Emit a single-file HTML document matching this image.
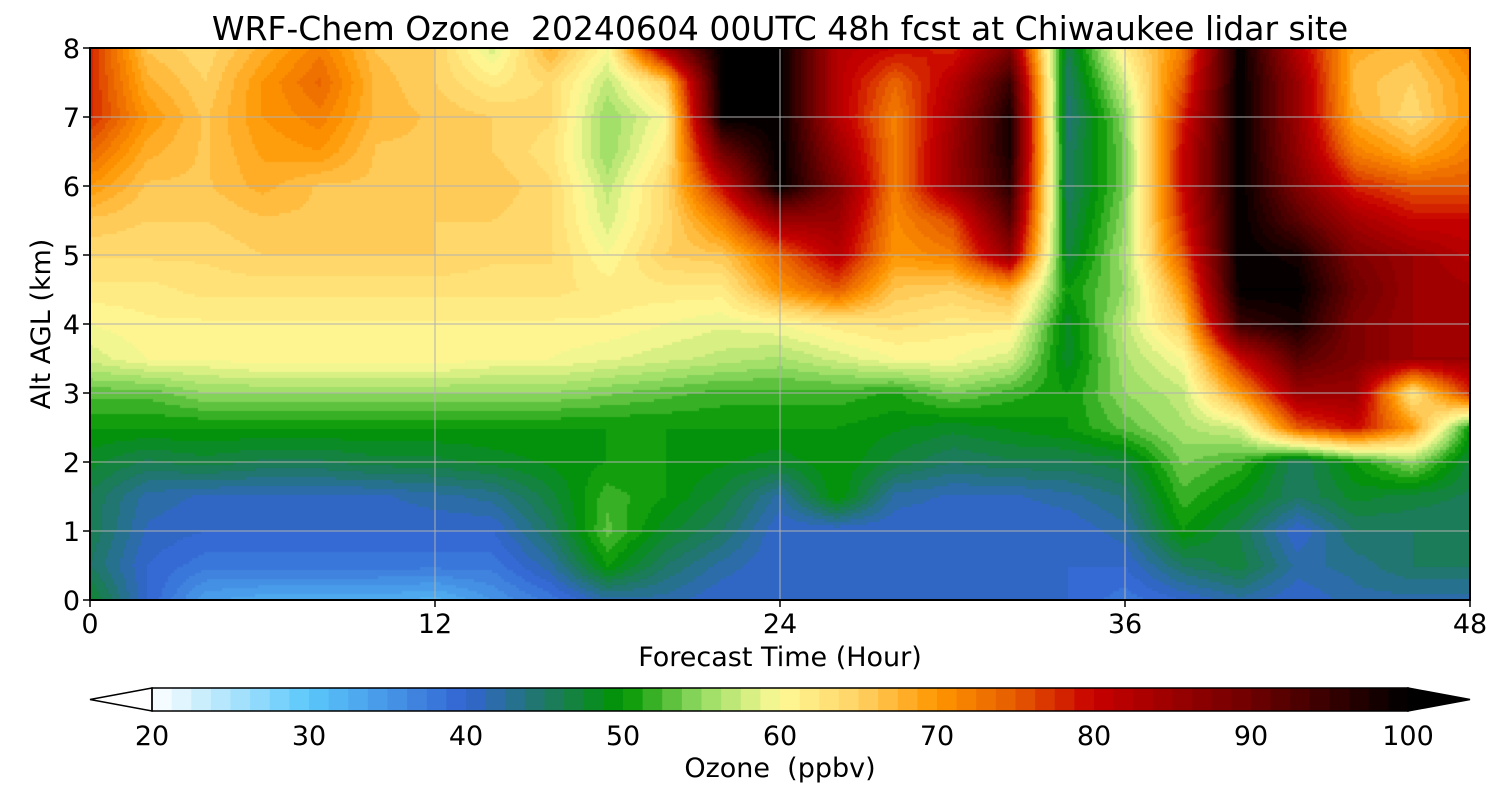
<!DOCTYPE html>
<html><head><meta charset="utf-8">
<style>
body{margin:0;background:#fff;width:1500px;height:800px;overflow:hidden;font-family:"DejaVu Sans","Liberation Sans",sans-serif}
svg text{font-family:"DejaVu Sans","Liberation Sans",sans-serif}
</style></head><body>
<svg id="svg" width="1500" height="800" xmlns="http://www.w3.org/2000/svg">
<text x="780" y="40" font-size="33" text-anchor="middle" fill="#000" xml:space="preserve">WRF-Chem Ozone  20240604 00UTC 48h fcst at Chiwaukee lidar site</text>
<foreignObject x="90" y="48" width="1380" height="552"><canvas id="cv" width="1380" height="552" xmlns="http://www.w3.org/1999/xhtml"></canvas></foreignObject>
<g id="grid"></g>
<rect x="90" y="48" width="1380" height="552" fill="none" stroke="#000" stroke-width="2"/>
<g id="axes"></g>
<text x="780" y="666" font-size="27" text-anchor="middle">Forecast Time (Hour)</text>
<text transform="translate(50,324) rotate(-90)" font-size="27" text-anchor="middle">Alt AGL (km)</text>
<g id="cbar"></g>
<text x="780" y="777" font-size="27" text-anchor="middle" xml:space="preserve">Ozone  (ppbv)</text>
</svg>
<script>
const hours=[0,2,4,6,8,10,12,14,16,18,20,22,24,26,28,30,32,34,36,38,40,42,44,46,48];
const alts=[0,0.5,1,1.5,2,2.5,3,3.5,4,4.5,5,5.5,6,6.5,7,7.5,8];
const r00=[48,40,34,33,33,33,32,35,38,42,42,40,40,40,40,40,40,40,38,40,42,40,42,42,42];
const r05=[45,40,38,38,38,38,38,38,42,50,45,42,40,40,40,40,40,40,40,45,47,42,43,45,45];
const r10=[46,41,40,40,40,40,40,40,45,53,48,45,40,40,40,40,40,40,42,50,46,40,45,45,45];
const r15=[46,42,41,41,41,41,42,43,47,52,50,47,42,50,42,41,41,42,44,52,49,45,48,47,46];
const r20=[48,46,47,46,46,47,47,48,49,50,50,49,48,50,47,45,46,46,47,54,52,45,50,55,47];
const r25=[50,50,50,50,50,50,50,50,50,50,50,50,50,50,49,48,49,50,53,56,58,75,80,70,50];
const r30=[53,53,55,55,55,55,55,55,55,54,53,52,52,52,51,54,52,50,55,57,70,85,85,62,78];
const r35=[58,60,60,61,61,61,61,60,60,59,58,57,56,58,60,60,58,48,56,60,80,92,88,85,85];
const r40=[60,61,61,61,61,61,61,61,61,61,60,59,60,62,63,62,62,48,57,65,95,98,88,85,84];
const r45=[62,62,63,63,63,63,63,63,63,62,62,62,70,75,66,65,68,50,55,70,100,100,90,85,84];
const r50=[64,64,64,65,65,65,65,64,64,60,65,66,74,82,70,72,86,47,56,75,100,98,88,85,82];
const r55=[66,65,65,66,66,66,65,65,64,58,64,72,85,85,71,76,92,46,55,78,100,92,84,80,80];
const r60=[70,66,66,68,66,66,66,66,64,57,64,80,100,88,72,85,96,45,54,80,100,88,78,75,75];
const r65=[74,68,66,69,70,66,66,65,63,55,62,90,100,85,72,85,98,45,54,80,100,86,72,68,72];
const r70=[78,70,66,70,72,67,66,65,64,55,60,100,100,82,72,84,98,44,55,78,100,85,68,64,70];
const r75=[78,68,65,70,74,67,65,62,64,57,65,100,100,82,74,82,95,45,58,75,100,85,67,65,70];
const r80=[78,66,64,68,72,66,65,58,68,60,85,100,100,82,80,78,88,46,62,72,100,82,68,67,72];
const rows=[r00,r05,r10,r15,r20,r25,r30,r35,r40,r45,r50,r55,r60,r65,r70,r75,r80];
const xTicks=[0,12,24,36,48];
const yTicks=[0,1,2,3,4,5,6,7,8];
const cbTicks=[20,30,40,50,60,70,80,90,100];

const X0=90,X1=1470,Y0=600,Y1=48;
const xs=h=>X0+(h-0)/48*(X1-X0);
const ys=a=>Y0-(a-0)/8*(Y0-Y1);
const cs=v=>152+(v-20)/80*(1408-152);
const stops=[[20,[255,255,255]],[30,[90,200,250]],[40,[50,100,210]],[45,[30,120,100]],[50,[0,150,0]],[55,[150,220,100]],[60,[255,250,150]],[65,[255,210,100]],[70,[255,150,0]],[75,[230,90,0]],[80,[200,0,0]],[90,[110,0,0]],[100,[0,0,0]]];
function col(v){v=Math.max(20,Math.min(100,v));for(let i=0;i<stops.length-1;i++){const[a,ca]=stops[i],[b,cb]=stops[i+1];if(v<=b){const t=(v-a)/(b-a);return ca.map((c,k)=>Math.round(c+(cb[k]-c)*t));}}return [0,0,0];}
const step=80/64;
function q(v){return 20+Math.floor((v-20)/step)*step+step/2;}
function val(h,a){
 let i=Math.min(hours.length-2,Math.max(0,hours.findIndex(x=>x>h)-1));if(h>=48)i=hours.length-2;
 let j=Math.min(alts.length-2,Math.max(0,alts.findIndex(x=>x>a)-1));if(a>=8)j=alts.length-2;
 const tx=(h-hours[i])/(hours[i+1]-hours[i]),ty=(a-alts[j])/(alts[j+1]-alts[j]);
 const v00=rows[j][i],v10=rows[j][i+1],v01=rows[j+1][i],v11=rows[j+1][i+1];
 return (v00*(1-tx)+v10*tx)*(1-ty)+(v01*(1-tx)+v11*tx)*ty;}
const ctx=document.getElementById('cv').getContext('2d');
const C=3;
for(let px=0;px<1380;px+=C)for(let py=0;py<552;py+=C){
 const h=(px+C/2)/1380*48,a=8-(py+C/2)/552*8;
 const c=col(q(val(h,a)));ctx.fillStyle=`rgb(${c[0]},${c[1]},${c[2]})`;ctx.fillRect(px,py,C,C);}
const NS='http://www.w3.org/2000/svg';
function mk(t,at,p){const e=document.createElementNS(NS,t);for(const k in at)e.setAttribute(k,at[k]);(p||document.getElementById('svg')).appendChild(e);return e;}
const grid=document.getElementById('grid'),axes=document.getElementById('axes'),cb=document.getElementById('cbar');
xTicks.forEach(t=>{
 const l=mk('line',{x1:xs(t),x2:xs(t),y1:Y1,y2:Y0,stroke:'#b0b0b0','stroke-width':1},grid);
 
 
 const tk=mk('line',{x1:xs(t),x2:xs(t),y1:Y0,y2:Y0+7,stroke:'#000','stroke-width':1.5},axes);
 
 
 const tx=mk('text',{x:xs(t),y:Y0+33,'font-size':27,'text-anchor':'middle'},axes);tx.textContent=t;
 
 });
yTicks.forEach(t=>{
 const l=mk('line',{x1:X0,x2:X1,y1:ys(t),y2:ys(t),stroke:'#b0b0b0','stroke-width':1},grid);
 
 
 const tk=mk('line',{x1:X0-7,x2:X0,y1:ys(t),y2:ys(t),stroke:'#000','stroke-width':1.5},axes);
 
 
 const tx=mk('text',{x:X0-10,y:ys(t)+10,'font-size':27,'text-anchor':'end'},axes);tx.textContent=t;
 
 });
for(let v=20;v<100-1e-6;v+=step){const c=col(v+step/2);
 const r=mk('rect',{x:cs(v),y:688,width:cs(v+step)-cs(v)+0.6,height:23,fill:`rgb(${c[0]},${c[1]},${c[2]})`},cb);
 
 }
const lt=mk('polygon',{points:`152,688 90,699.5 152,711`,fill:'#fff',stroke:'#000','stroke-width':1.5},cb);


const rt=mk('polygon',{points:`1408,688 1470,699.5 1408,711`,fill:'#000',stroke:'#000','stroke-width':1.5},cb);


const fr=mk('rect',{x:152,y:688,width:1256,height:23,fill:'none',stroke:'#000','stroke-width':1.5},cb);


cbTicks.forEach(t=>{
 const tx=mk('text',{x:cs(t),y:745,'font-size':27,'text-anchor':'middle'},cb);tx.textContent=t;
 
 });
</script>
</body></html>
